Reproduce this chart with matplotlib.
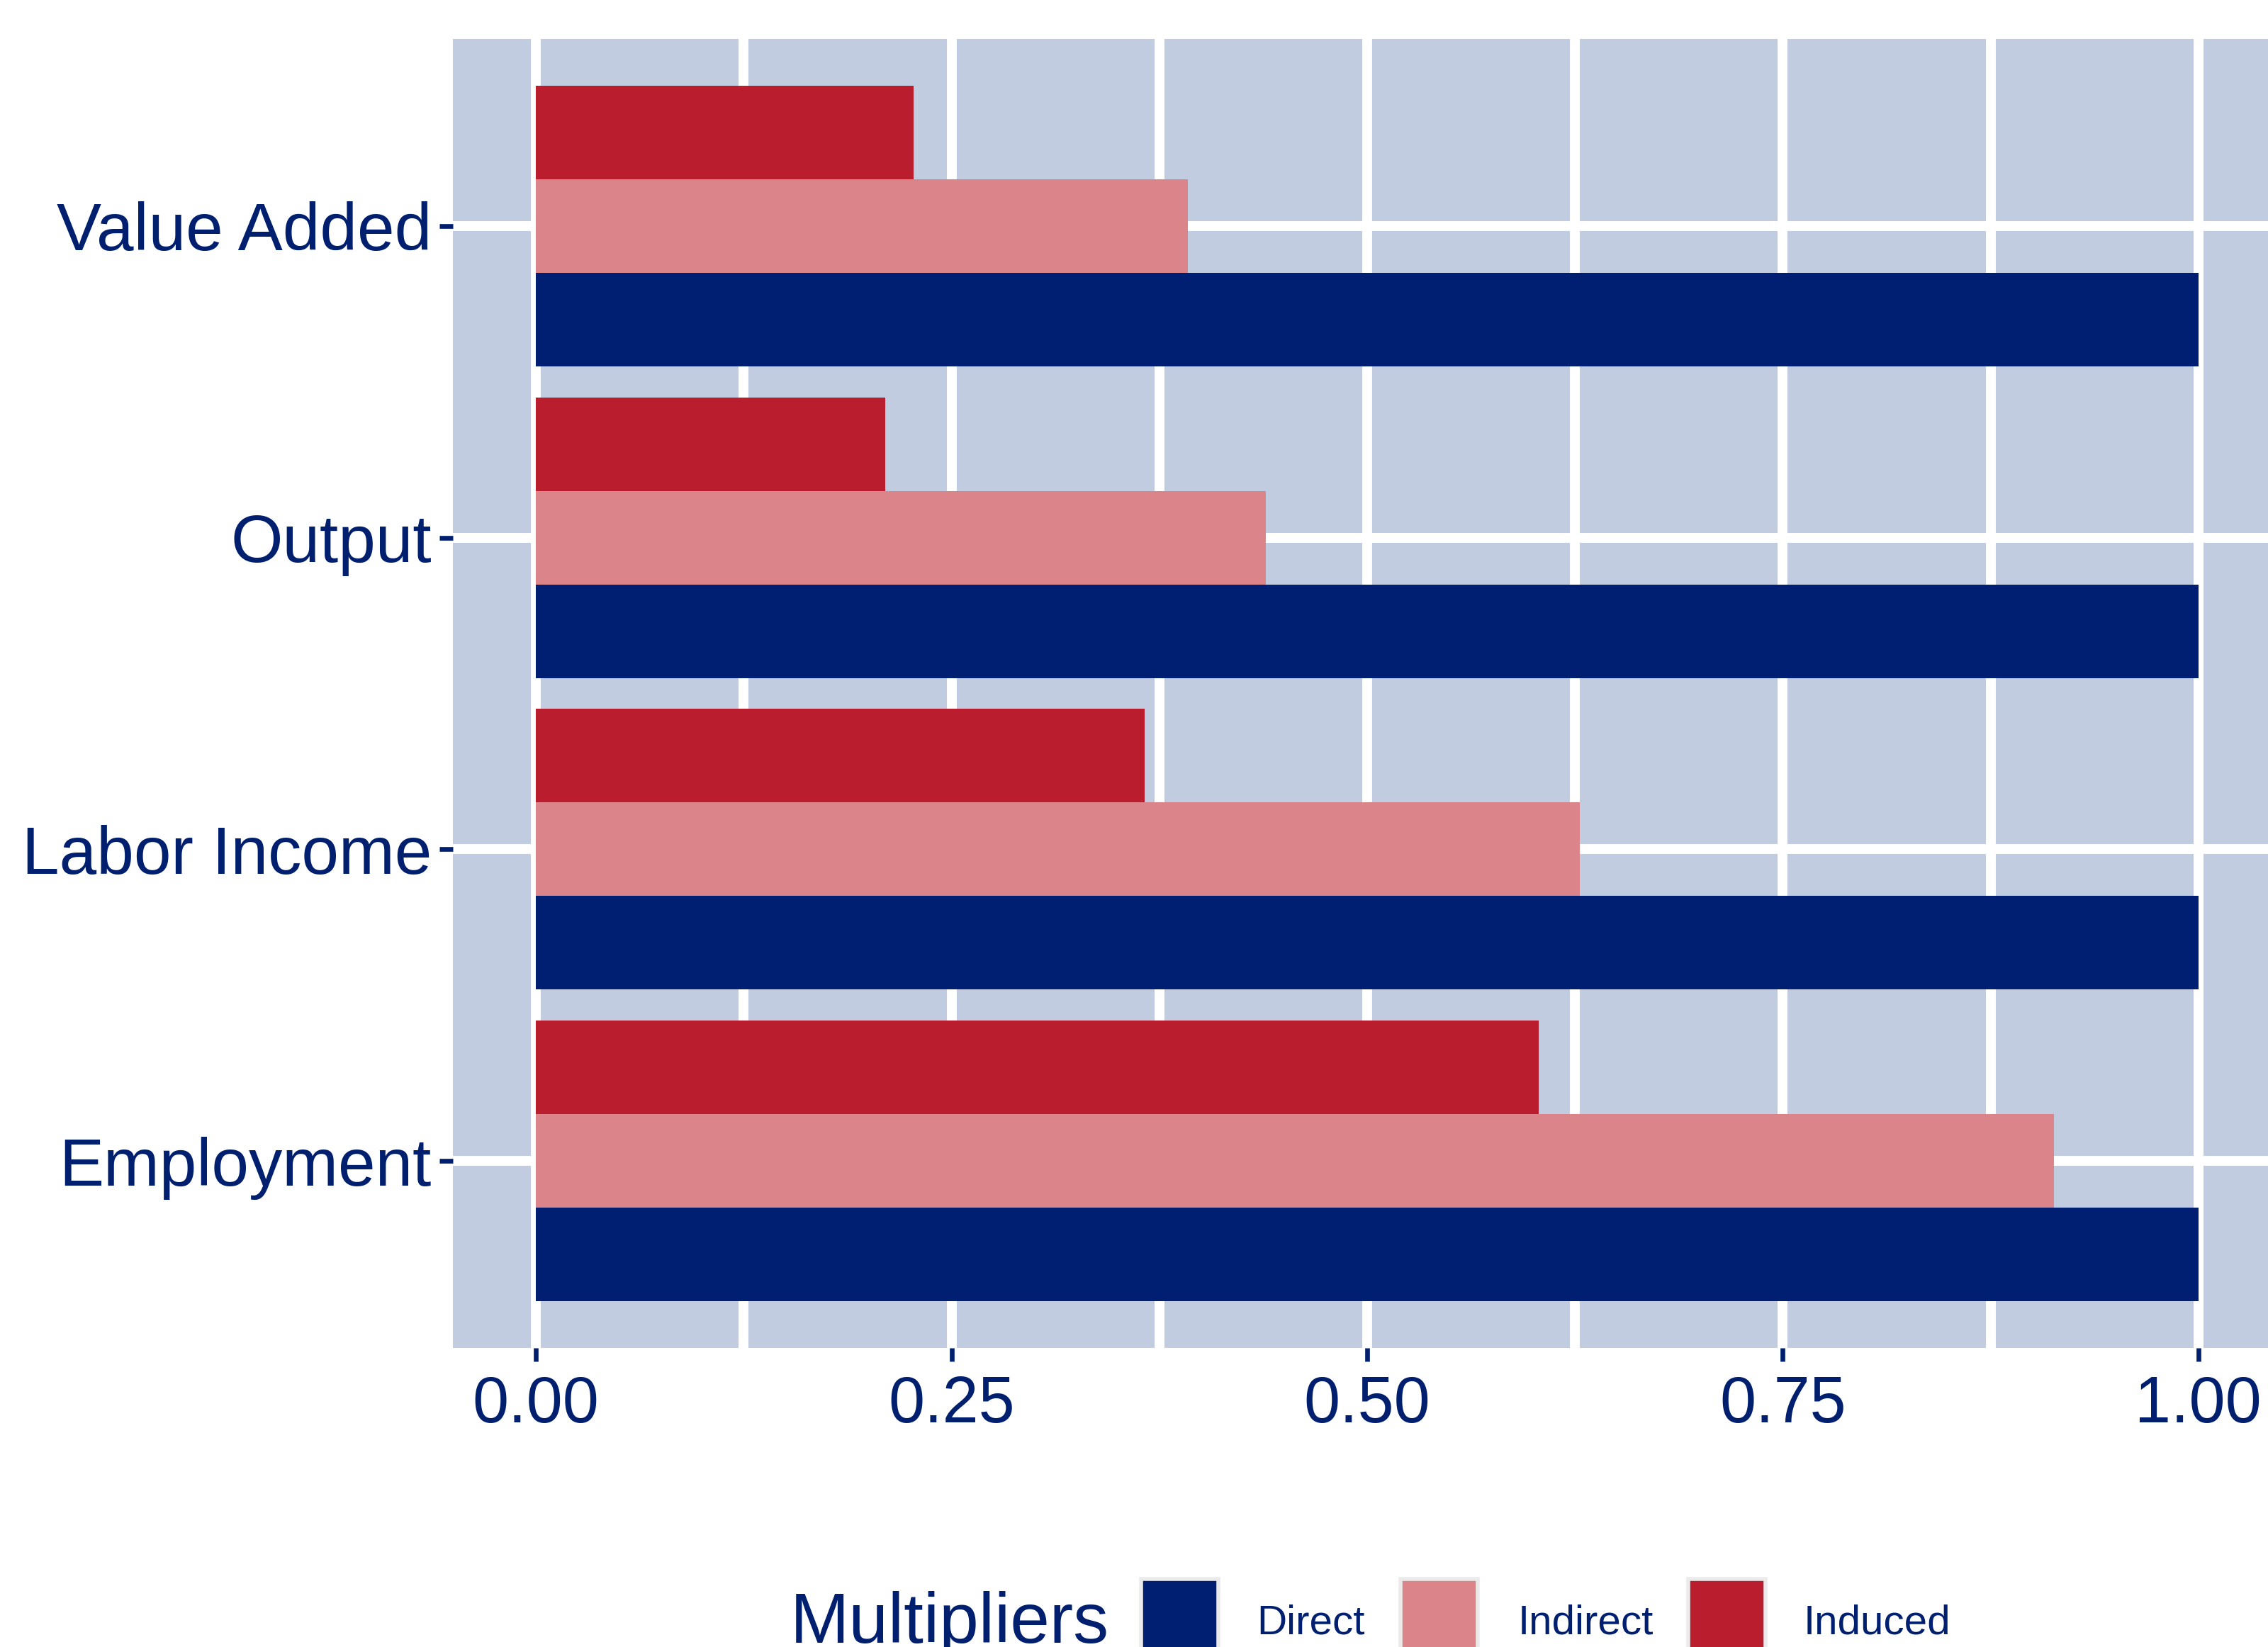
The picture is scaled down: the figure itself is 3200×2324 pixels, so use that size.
import matplotlib
matplotlib.use('Agg')
import matplotlib.pyplot as plt
from matplotlib.patches import Rectangle
import numpy as np

plt.rcParams['font.family'] = ['Liberation Sans', 'DejaVu Sans']

categories = ['Employment', 'Labor Income', 'Output', 'Value Added']
series = ['Direct', 'Indirect', 'Induced']
direct = [1.0, 1.0, 1.0, 1.0]
indirect = [0.913, 0.628, 0.439, 0.392]
induced = [0.603, 0.366, 0.210, 0.227]
colors = ['#001F73', '#DB858B', '#BA1E2E']
x_ticks = [0.0, 0.25, 0.5, 0.75, 1.0]

navy = '#00206F'
panel = '#C2CCE0'

fig = plt.figure(figsize=(16, 11.62), dpi=200)
ax = fig.add_axes([639/3200, 1 - 1902/2324, (3219-639)/3200, (1902-55)/2324])
ax.set_facecolor(panel)

y = np.arange(len(categories))
h = 0.3
for i, (vals, c) in enumerate(zip([direct, indirect, induced], colors)):
    ax.barh(y + (i - 1) * h, vals, height=h, color=c, edgecolor='none', zorder=3)

ax.set_xlim(-0.05, 1.05)
ax.set_ylim(-0.6, len(categories) - 0.4)
ax.set_xticks(x_ticks)
ax.set_xticklabels(['%.2f' % v for v in x_ticks])
ax.set_xticks([0.125, 0.375, 0.625, 0.875], minor=True)
ax.set_yticks(y)
ax.set_yticklabels(categories)

ax.grid(True, which='major', color='white', linewidth=5.0, zorder=1)
ax.grid(True, which='minor', axis='x', color='white', linewidth=5.0, zorder=1)
ax.set_axisbelow(True)
for s in ax.spines.values():
    s.set_visible(False)

ax.tick_params(axis='both', which='major', length=6.8, width=2.4, color=navy,
               labelcolor=navy)
ax.tick_params(axis='x', which='major', pad=7, labelsize=33)
ax.tick_params(axis='y', which='major', pad=4, labelsize=34)
ax.tick_params(axis='x', which='minor', length=0)

# legend along the bottom edge
fig.text(1115/3200, 1 - 2318/2324, 'Multipliers', fontsize=36, color=navy,
         ha='left', va='baseline')
key_x = [1610, 1976, 2382]
lab_x = [1773, 2142, 2545]
for kx, lx, name, c in zip(key_x, lab_x, series, colors):
    fig.add_artist(Rectangle((kx/3200, 1 - 2336/2324), 109/3200, 108/2324,
                             transform=fig.transFigure, facecolor=c,
                             edgecolor='#EBEBEB', linewidth=2))
    fig.text(lx/3200, 1 - 2305/2324, name, fontsize=21, color=navy,
             ha='left', va='baseline')

fig.savefig('out.png', dpi=200)
